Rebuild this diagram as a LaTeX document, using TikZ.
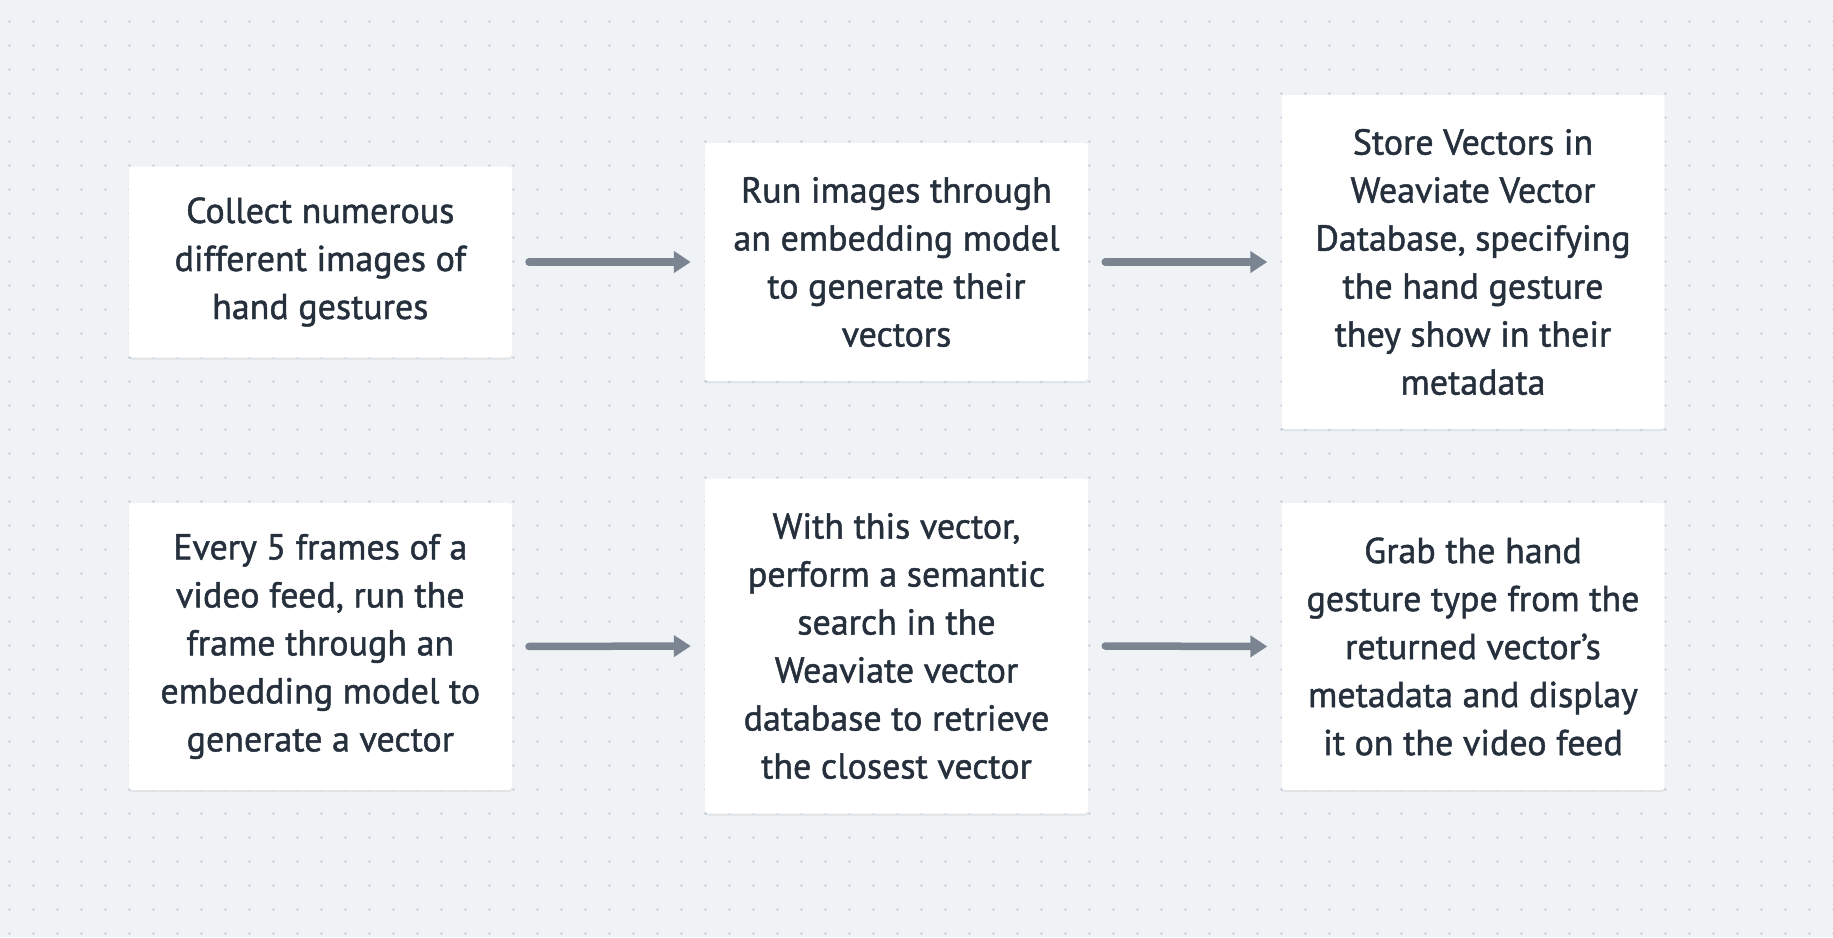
\documentclass[tikz,border=0pt]{standalone}
\usepackage{fontspec}
\setmainfont{PT Sans}[FakeBold=1.2]
\newfontfamily\boxfont{PT Sans}[FakeBold=1.3]
\usetikzlibrary{arrows.meta,shadows}
\definecolor{bgc}{HTML}{EFF3F6}
\definecolor{dotc}{HTML}{C6CED8}
\definecolor{txtc}{HTML}{26303D}
\definecolor{arrc}{HTML}{7B8592}
\tikzset{
  stepbox/.style={draw=none, fill=white, rounded corners=3pt, minimum width=383pt,
    align=center, text=txtc, inner sep=0pt,
    font=\boxfont\fontsize{36}{48}\selectfont,
    drop shadow={shadow xshift=0pt, shadow yshift=-2pt, opacity=0.06, fill=black}},
  flow/.style={draw=arrc, line width=7.5pt, line cap=round,
    -{Triangle[length=17pt,width=21pt]}, shorten <=17pt, shorten >=14pt}
}
\begin{document}
\begin{tikzpicture}[x=1pt,y=-1pt]
\fill[bgc] (0,0) rectangle (1833,937);
\useasboundingbox (0,0) rectangle (1833,937);
\foreach \i in {0,...,76}{
  \foreach \j in {0,...,38}{
    \fill[dotc] (9.5+24*\i,21.5+24*\j) circle (1.4pt);
  }
}
\node[stepbox, minimum height=191pt] (b1) at (320.3,262) {Collect numerous\\different images of\\hand gestures};
\node[stepbox, minimum height=238pt] (b2) at (896.5,262) {Run images through\\an embedding model\\to generate their\\vectors};
\node[stepbox, minimum height=334pt] (b3) at (1473,262) {Store Vectors in\\Weaviate Vector\\Database, specifying\\the hand gesture\\they show in their\\metadata};
\node[stepbox, minimum height=287pt] (b4) at (320.3,646.5) {Every 5 frames of a\\video feed, run the\\frame through an\\embedding model to\\generate a vector};
\node[stepbox, minimum height=335pt] (b5) at (896.5,646) {With this vector,\\perform a semantic\\search in the\\Weaviate vector\\database to retrieve\\the closest vector};
\node[stepbox, minimum height=287pt] (b6) at (1473,646.5) {Grab the hand\\gesture type from the\\returned vector’s\\metadata and display\\it on the video feed};
\draw[flow] (b1.east) -- (b2.west);
\draw[flow] (b2.east) -- (b3.west);
\draw[flow] (b4.east) -- (b5.west);
\draw[flow] (b5.east) -- (b6.west);
\end{tikzpicture}
\end{document}
